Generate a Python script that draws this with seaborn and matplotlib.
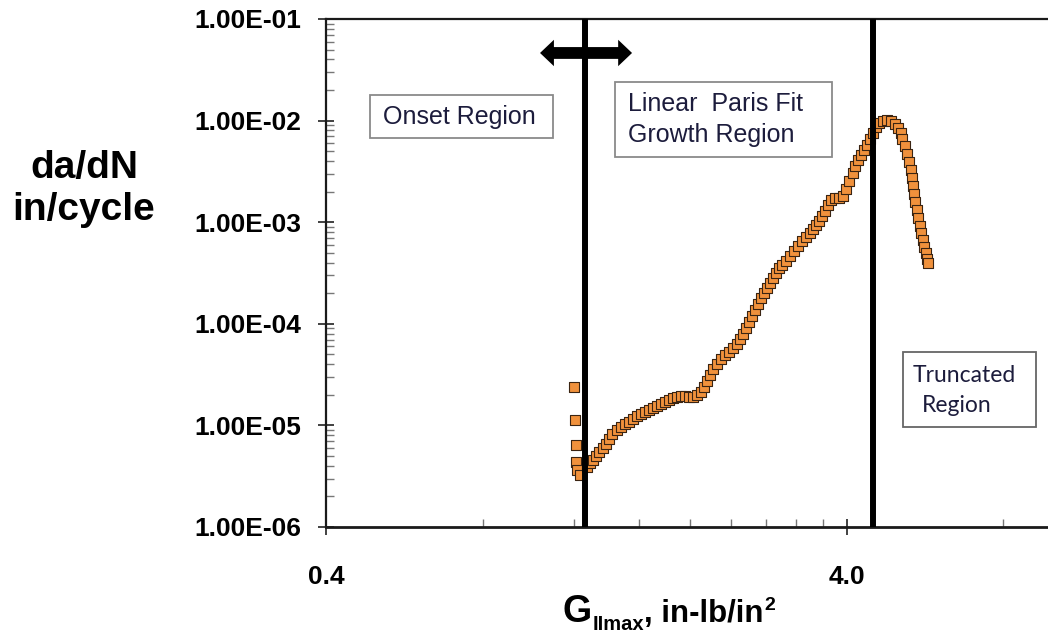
import numpy as np
import pandas as pd
import matplotlib
matplotlib.use("Agg")
import matplotlib.pyplot as plt
import seaborn as sns
from matplotlib.patches import Rectangle, FancyArrowPatch
from matplotlib.transforms import IdentityTransform
from matplotlib.ticker import FixedLocator, FixedFormatter, LogLocator, NullFormatter

# ---------------- data ----------------
onset_g = [1.200, 1.205, 1.207, 1.210, 1.215, 1.230]
onset_dadn = [2.39e-5, 1.13e-5, 6.41e-6, 4.36e-6, 3.64e-6, 3.25e-6]

growth_g = [1.269, 1.286, 1.303, 1.320, 1.338, 1.362, 1.380, 1.399, 1.417, 1.449,
            1.475, 1.501, 1.528, 1.555, 1.583, 1.611, 1.640, 1.669, 1.699, 1.729,
            1.760, 1.791, 1.823, 1.856, 1.889, 1.923, 1.957, 1.992, 2.028, 2.064,
            2.101, 2.129, 2.157, 2.186, 2.215, 2.255, 2.295, 2.336, 2.377, 2.420,
            2.463, 2.496, 2.529, 2.563, 2.597, 2.632, 2.667, 2.703, 2.739, 2.775,
            2.812, 2.850, 2.888, 2.927, 2.966, 3.005, 3.059, 3.113, 3.169, 3.225,
            3.283, 3.342, 3.401, 3.447, 3.493, 3.539, 3.587, 3.635, 3.683, 3.732,
            3.799, 3.867, 3.936, 3.988, 4.041, 4.113, 4.150, 4.205, 4.262, 4.319,
            4.377, 4.435, 4.494, 4.554, 4.615, 4.697, 4.781, 4.867, 4.953, 5.019,
            5.086, 5.109, 5.177, 5.223, 5.270, 5.316, 5.340, 5.364, 5.387, 5.411,
            5.459, 5.483, 5.532, 5.557, 5.606, 5.631, 5.681, 5.706, 5.731]
growth_dadn = [3.90e-6, 4.27e-6, 4.57e-6, 5.00e-6, 5.47e-6, 5.99e-6, 6.56e-6, 7.35e-6, 8.23e-6, 9.01e-6,
               9.64e-6, 1.03e-5, 1.08e-5, 1.16e-5, 1.24e-5, 1.29e-5, 1.35e-5, 1.42e-5, 1.48e-5, 1.55e-5,
               1.62e-5, 1.70e-5, 1.78e-5, 1.86e-5, 1.90e-5, 1.95e-5, 1.95e-5, 1.90e-5, 1.90e-5, 1.99e-5,
               2.13e-5, 2.39e-5, 2.74e-5, 3.13e-5, 3.59e-5, 4.02e-5, 4.50e-5, 4.93e-5, 5.28e-5, 5.78e-5,
               6.33e-5, 7.09e-5, 7.94e-5, 9.09e-5, 1.04e-4, 1.19e-4, 1.37e-4, 1.57e-4, 1.79e-4, 2.01e-4,
               2.25e-4, 2.52e-4, 2.82e-4, 3.16e-4, 3.54e-4, 3.79e-4, 4.15e-4, 4.65e-4, 5.21e-4, 5.83e-4,
               6.53e-4, 7.15e-4, 7.83e-4, 8.57e-4, 9.39e-4, 1.03e-3, 1.15e-3, 1.29e-3, 1.48e-3, 1.65e-3,
               1.73e-3, 1.73e-3, 1.81e-3, 2.12e-3, 2.54e-3, 3.05e-3, 3.57e-3, 4.09e-3, 4.59e-3, 5.14e-3,
               5.75e-3, 6.59e-3, 7.55e-3, 8.65e-3, 9.47e-3, 9.91e-3, 1.01e-2, 9.91e-3, 9.26e-3, 8.46e-3,
               7.55e-3, 6.59e-3, 5.62e-3, 4.69e-3, 3.91e-3, 3.26e-3, 2.72e-3, 2.27e-3, 1.89e-3, 1.58e-3,
               1.32e-3, 1.10e-3, 9.18e-4, 7.83e-4, 6.68e-4, 5.70e-4, 4.98e-4, 4.34e-4, 3.97e-4]

region_bounds = [1.26, 4.50]
arrow_x = [1.031, 1.549]
arrow_y = 0.0463

y_tick_values = [1e-6, 1e-5, 1e-4, 1e-3, 1e-2, 1e-1]
y_tick_labels = ["1.00E-06", "1.00E-05", "1.00E-04", "1.00E-03", "1.00E-02", "1.00E-01"]
x_tick_values = [0.4, 4.0]
x_tick_labels = ["0.4", "4.0"]
x_minor_values = [0.8, 1.2, 1.6, 2.0, 2.4, 2.8, 3.2, 3.6, 8.0]

# ---------------- styling ----------------
sns.set_theme(style="white")
plt.rcParams["font.family"] = ["Liberation Sans", "DejaVu Sans"]
plt.rcParams["text.color"] = "black"

W, H = 1048, 641
fig = plt.figure(figsize=(W / 100, H / 100), dpi=100)
ax = fig.add_axes([326 / W, 1 - 527 / H, (W - 326) / W, (527 - 19) / H])

df = pd.DataFrame({"g": onset_g + growth_g, "dadn": onset_dadn + growth_dadn})
sns.scatterplot(data=df, x="g", y="dadn", marker="s", s=55, color="#F0913C",
                edgecolor="#3a2412", linewidth=0.8, ax=ax, zorder=3, legend=False)

ax.set_xscale("log")
ax.set_yscale("log")
ax.set_xlim(0.4, 9.754)
ax.set_ylim(1e-6, 1e-1)

ax.xaxis.set_major_locator(FixedLocator(x_tick_values))
ax.xaxis.set_major_formatter(FixedFormatter(x_tick_labels))
ax.xaxis.set_minor_locator(FixedLocator(x_minor_values))
ax.xaxis.set_minor_formatter(NullFormatter())
ax.yaxis.set_major_locator(FixedLocator(y_tick_values))
ax.yaxis.set_major_formatter(FixedFormatter(y_tick_labels))
ax.yaxis.set_minor_locator(LogLocator(base=10, subs=np.arange(2, 10)))
ax.yaxis.set_minor_formatter(NullFormatter())

ax.tick_params(axis="both", which="both", bottom=True, left=True, top=False, right=False)
ax.tick_params(axis="both", which="major", direction="inout", length=12, width=1.3,
               color="#333333", labelsize=19, labelcolor="black")
ax.tick_params(axis="x", which="major", pad=21)
ax.tick_params(axis="y", which="major", pad=12)
ax.tick_params(axis="both", which="minor", direction="in", length=6, width=1.0, color="#777777")
for lab in ax.get_xticklabels() + ax.get_yticklabels():
    lab.set_fontweight("bold")

for side in ["left", "bottom", "top"]:
    ax.spines[side].set_visible(True)
    ax.spines[side].set_color("#1a1a1a")
ax.spines["left"].set_linewidth(1.6)
ax.spines["bottom"].set_linewidth(2.0)
ax.spines["top"].set_linewidth(1.6)
ax.spines["right"].set_visible(False)
ax.set_xlabel("")
ax.set_ylabel("")
ax.grid(False)

for xb in region_bounds:
    ax.axvline(xb, color="black", lw=4.3, zorder=5)

# double arrow (two halves pointing outward from the boundary)
for xe in arrow_x:
    arr = FancyArrowPatch((region_bounds[0], arrow_y), (xe, arrow_y),
                          arrowstyle="simple,head_length=1.0,head_width=1.9,tail_width=0.85",
                          mutation_scale=10, color="black", lw=0, shrinkA=0, shrinkB=0, zorder=4)
    ax.add_patch(arr)

ident = IdentityTransform()


def px(x, y_top):
    return x, H - y_top


text_color = "#1c1c3c"
box_color = "#8a8a8a"

# Onset Region box
fig.add_artist(Rectangle(px(370, 138), 183, 43, transform=ident, fill=False,
                         edgecolor=box_color, lw=1.3))
fig.text(*px(383, 117), "Onset Region", transform=ident, fontsize=18,
         color=text_color, va="center", ha="left")

# Linear Paris Fit box
fig.add_artist(Rectangle(px(615, 157), 217, 75, transform=ident, fill=False,
                         edgecolor=box_color, lw=1.3))
fig.text(*px(628, 104), "Linear  Paris Fit", transform=ident, fontsize=18,
         color=text_color, va="center", ha="left")
fig.text(*px(628, 135), "Growth Region", transform=ident, fontsize=18,
         color=text_color, va="center", ha="left")

# Truncated Region box
fig.add_artist(Rectangle(px(903, 427), 133, 75, transform=ident, fill=False,
                         edgecolor="#666666", lw=1.3))
fig.text(*px(913, 375), "Truncated", transform=ident, fontsize=16.5,
         family=["Lato", "DejaVu Sans"], color=text_color, va="center", ha="left")
fig.text(*px(922, 405), "Region", transform=ident, fontsize=16.5,
         family=["Lato", "DejaVu Sans"], color=text_color, va="center", ha="left")

# Y axis label
fig.text(*px(84, 189), "da/dN\nin/cycle", transform=ident, fontsize=28,
         fontweight="bold", ha="center", va="center", linespacing=1.22, color="black")

# X axis label built from pieces
renderer = fig.canvas.get_renderer()
base = 622
t1 = fig.text(*px(562, base), "G", transform=ident, fontsize=27, fontweight="bold",
              va="baseline", ha="left", color="black")
bb = t1.get_window_extent(renderer)
t2 = fig.text(bb.x1 + 1, H - (base + 8), "IImax", transform=ident, fontsize=14.5,
              fontweight="bold", va="baseline", ha="left", color="black")
bb = t2.get_window_extent(renderer)
t3 = fig.text(bb.x1, H - base, ", in-lb/in", transform=ident, fontsize=22.5,
              fontweight="bold", va="baseline", ha="left", color="black")
bb = t3.get_window_extent(renderer)
fig.text(bb.x1 + 1, H - (base - 12), "2", transform=ident, fontsize=14,
         fontweight="bold", va="baseline", ha="left", color="black")

fig.savefig("out.png", dpi=100)
